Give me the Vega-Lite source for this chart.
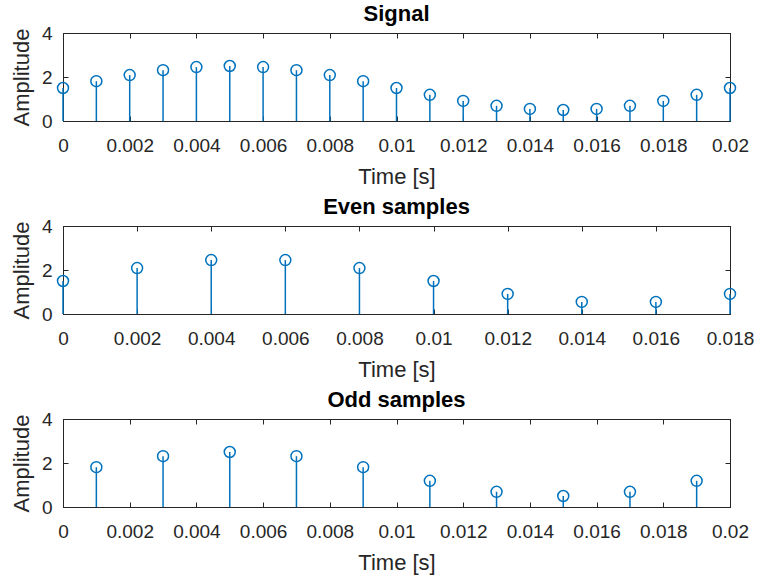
{
  "$schema": "https://vega.github.io/schema/vega-lite/v6.json",
  "background": "white",
  "padding": {"left": 9, "top": 2, "right": 5, "bottom": 5},
  "config": {
    "font": "Liberation Sans",
    "view": {"stroke": "#262626", "strokeWidth": 1},
    "axis": {
      "grid": false,
      "domainColor": "#262626",
      "tickColor": "#262626",
      "labelColor": "#262626",
      "titleColor": "#262626",
      "labelFont": "Liberation Sans",
      "titleFont": "Liberation Sans",
      "labelFontSize": 19,
      "titleFontSize": 22,
      "titleFontWeight": "normal",
      "labelFlush": false,
      "tickSize": -5,
      "tickWidth": 1,
      "domainWidth": 1
    },
    "title": {"font": "Liberation Sans", "fontSize": 22, "fontWeight": "bold", "color": "#000000", "offset": -2},
    "concat": {"spacing": 7}
  },
  "datasets": {
    "signal": [
      {"t": 0, "amp": 1.5},
      {"t": 0.001, "amp": 1.809},
      {"t": 0.002, "amp": 2.088},
      {"t": 0.003, "amp": 2.309},
      {"t": 0.004, "amp": 2.451},
      {"t": 0.005, "amp": 2.5},
      {"t": 0.006, "amp": 2.451},
      {"t": 0.007, "amp": 2.309},
      {"t": 0.008, "amp": 2.088},
      {"t": 0.009, "amp": 1.809},
      {"t": 0.01, "amp": 1.5},
      {"t": 0.011, "amp": 1.191},
      {"t": 0.012, "amp": 0.912},
      {"t": 0.013, "amp": 0.691},
      {"t": 0.014, "amp": 0.549},
      {"t": 0.015, "amp": 0.5},
      {"t": 0.016, "amp": 0.549},
      {"t": 0.017, "amp": 0.691},
      {"t": 0.018, "amp": 0.912},
      {"t": 0.019, "amp": 1.191},
      {"t": 0.02, "amp": 1.5}
    ],
    "even": [
      {"t": 0, "amp": 1.5},
      {"t": 0.002, "amp": 2.088},
      {"t": 0.004, "amp": 2.451},
      {"t": 0.006, "amp": 2.451},
      {"t": 0.008, "amp": 2.088},
      {"t": 0.01, "amp": 1.5},
      {"t": 0.012, "amp": 0.912},
      {"t": 0.014, "amp": 0.549},
      {"t": 0.016, "amp": 0.549},
      {"t": 0.018, "amp": 0.912}
    ],
    "odd": [
      {"t": 0.001, "amp": 1.809},
      {"t": 0.003, "amp": 2.309},
      {"t": 0.005, "amp": 2.5},
      {"t": 0.007, "amp": 2.309},
      {"t": 0.009, "amp": 1.809},
      {"t": 0.011, "amp": 1.191},
      {"t": 0.013, "amp": 0.691},
      {"t": 0.015, "amp": 0.5},
      {"t": 0.017, "amp": 0.691},
      {"t": 0.019, "amp": 1.191}
    ]
  },
  "vconcat": [
    {
      "width": 667, "height": 88,
      "title": "Signal",
      "data": {"name": "signal"},
      "resolve": {"axis": {"x": "independent", "y": "independent"}},
      "layer": [
        {
          "mark": {"type": "rule", "color": "#0072BD", "strokeWidth": 1.5},
          "encoding": {
            "x": {"field": "t", "type": "quantitative", "scale": {"domain": [0, 0.02], "nice": false},
                  "axis": {"orient": "bottom", "title": "Time [s]", "values": [0, 0.002, 0.004, 0.006, 0.008, 0.01, 0.012, 0.014, 0.016, 0.018, 0.02], "format": "~g", "labelPadding": 20, "titlePadding": 11}},
            "y": {"field": "amp", "type": "quantitative", "scale": {"domain": [0, 4], "nice": false},
                  "axis": {"orient": "left", "title": "Amplitude", "values": [0, 2, 4], "labelPadding": 16, "titlePadding": 8}},
            "y2": {"datum": 0}
          }
        },
        {
          "mark": {"type": "point", "shape": "circle", "filled": false, "color": "#0072BD", "size": 120, "strokeWidth": 1.5, "opacity": 1},
          "encoding": {
            "x": {"field": "t", "type": "quantitative", "scale": {"domain": [0, 0.02], "nice": false},
                  "axis": {"orient": "top", "title": null, "labels": false, "values": [0, 0.002, 0.004, 0.006, 0.008, 0.01, 0.012, 0.014, 0.016, 0.018, 0.02]}},
            "y": {"field": "amp", "type": "quantitative", "scale": {"domain": [0, 4], "nice": false},
                  "axis": {"orient": "right", "title": null, "labels": false, "values": [0, 2, 4]}}
          }
        }
      ]
    },
    {
      "width": 667, "height": 88,
      "title": "Even samples",
      "data": {"name": "even"},
      "resolve": {"axis": {"x": "independent", "y": "independent"}},
      "layer": [
        {
          "mark": {"type": "rule", "color": "#0072BD", "strokeWidth": 1.5},
          "encoding": {
            "x": {"field": "t", "type": "quantitative", "scale": {"domain": [0, 0.018], "nice": false},
                  "axis": {"orient": "bottom", "title": "Time [s]", "values": [0, 0.002, 0.004, 0.006, 0.008, 0.01, 0.012, 0.014, 0.016, 0.018], "format": "~g", "labelPadding": 20, "titlePadding": 11}},
            "y": {"field": "amp", "type": "quantitative", "scale": {"domain": [0, 4], "nice": false},
                  "axis": {"orient": "left", "title": "Amplitude", "values": [0, 2, 4], "labelPadding": 16, "titlePadding": 8}},
            "y2": {"datum": 0}
          }
        },
        {
          "mark": {"type": "point", "shape": "circle", "filled": false, "color": "#0072BD", "size": 120, "strokeWidth": 1.5, "opacity": 1},
          "encoding": {
            "x": {"field": "t", "type": "quantitative", "scale": {"domain": [0, 0.018], "nice": false},
                  "axis": {"orient": "top", "title": null, "labels": false, "values": [0, 0.002, 0.004, 0.006, 0.008, 0.01, 0.012, 0.014, 0.016, 0.018]}},
            "y": {"field": "amp", "type": "quantitative", "scale": {"domain": [0, 4], "nice": false},
                  "axis": {"orient": "right", "title": null, "labels": false, "values": [0, 2, 4]}}
          }
        }
      ]
    },
    {
      "width": 667, "height": 88,
      "title": "Odd samples",
      "data": {"name": "odd"},
      "resolve": {"axis": {"x": "independent", "y": "independent"}},
      "layer": [
        {
          "mark": {"type": "rule", "color": "#0072BD", "strokeWidth": 1.5},
          "encoding": {
            "x": {"field": "t", "type": "quantitative", "scale": {"domain": [0, 0.02], "nice": false},
                  "axis": {"orient": "bottom", "title": "Time [s]", "values": [0, 0.002, 0.004, 0.006, 0.008, 0.01, 0.012, 0.014, 0.016, 0.018, 0.02], "format": "~g", "labelPadding": 20, "titlePadding": 11}},
            "y": {"field": "amp", "type": "quantitative", "scale": {"domain": [0, 4], "nice": false},
                  "axis": {"orient": "left", "title": "Amplitude", "values": [0, 2, 4], "labelPadding": 16, "titlePadding": 8}},
            "y2": {"datum": 0}
          }
        },
        {
          "mark": {"type": "point", "shape": "circle", "filled": false, "color": "#0072BD", "size": 120, "strokeWidth": 1.5, "opacity": 1},
          "encoding": {
            "x": {"field": "t", "type": "quantitative", "scale": {"domain": [0, 0.02], "nice": false},
                  "axis": {"orient": "top", "title": null, "labels": false, "values": [0, 0.002, 0.004, 0.006, 0.008, 0.01, 0.012, 0.014, 0.016, 0.018, 0.02]}},
            "y": {"field": "amp", "type": "quantitative", "scale": {"domain": [0, 4], "nice": false},
                  "axis": {"orient": "right", "title": null, "labels": false, "values": [0, 2, 4]}}
          }
        }
      ]
    }
  ]
}
